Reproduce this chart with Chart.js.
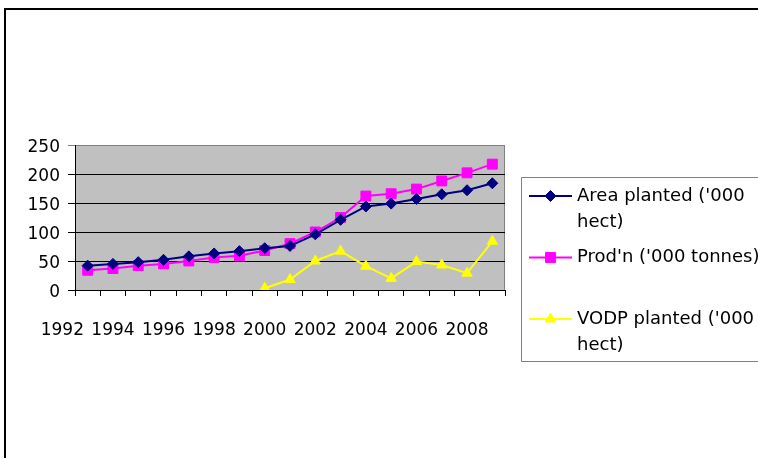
<!DOCTYPE html>
<html><head><meta charset="utf-8">
<script src="https://cdn.jsdelivr.net/npm/chart.js@4.4.0/dist/chart.umd.min.js"></script>
<style>
html,body{margin:0;padding:0;background:#fff;overflow:hidden;}
#wrap{position:relative;width:758px;height:458px;overflow:hidden;}
#fl{position:absolute;left:4px;top:8px;width:2px;height:460px;background:#000;}
#ft{position:absolute;left:4px;top:8px;width:760px;height:2px;background:#000;}
canvas{position:absolute;left:0;top:0;}
</style></head><body>
<div id="wrap"><div id="fl"></div><div id="ft"></div><canvas id="c" width="758" height="458"></canvas></div>
<script>
// ---- data ----
const years = ["1993","1994","1995","1996","1997","1998","1999","2000","2001","2002","2003","2004","2005","2006","2007","2008","2009"];
const xTickLabels = [1992,1994,1996,1998,2000,2002,2004,2006,2008];
const yTickValues = [0,50,100,150,200,250];
const areaPlanted = [42,45,48,52,58,63,67,72,76,96,121,144,149,157,165,172,184];
const production  = [34,37,42,45,50,56,59,68,80,100,125,162,166,174,188,202,217];
const vodpPlanted = [null,null,null,null,null,null,null,3,18,50,67,41,20,49,43,29,84];
const seriesNames = ["Area planted ('000 hect)","Prod'n ('000 tonnes)","VODP planted ('000 hect)"];

const FONT = "DejaVu Sans";

const plotBg = {
  id:'plotBg',
  beforeDraw(chart){
    const {ctx, chartArea:a} = chart;
    ctx.save();
    ctx.fillStyle = '#C0C0C0';
    ctx.fillRect(a.left, a.top, a.right-a.left, a.bottom-a.top);
    ctx.strokeStyle = '#808080';
    ctx.lineWidth = 1;
    ctx.strokeRect(a.left+0.5, a.top+0.5, a.right-a.left-1, a.bottom-a.top);
    ctx.restore();
  }
};

function drawMarker(ctx, style, x, y, r, color){
  ctx.save();
  ctx.fillStyle = color; ctx.strokeStyle = color; ctx.lineWidth = 1;
  ctx.beginPath();
  if (style === 'rectRot'){
    ctx.moveTo(x, y-r); ctx.lineTo(x+r, y); ctx.lineTo(x, y+r); ctx.lineTo(x-r, y);
  } else if (style === 'rect'){
    const s = r*Math.SQRT1_2;
    ctx.rect(x-s, y-s, 2*s, 2*s);
  } else {
    const w = r*Math.sqrt(3)/2;
    ctx.moveTo(x, y-r); ctx.lineTo(x+w, y+r/2); ctx.lineTo(x-w, y+r/2);
  }
  ctx.closePath(); ctx.fill(); ctx.stroke();
  ctx.restore();
}

function wrapText(ctx, text, maxW){
  const words = text.split(' ');
  const lines = []; let cur = '';
  for (const w of words){
    const t = cur ? cur + ' ' + w : w;
    if (ctx.measureText(t).width > maxW && cur){ lines.push(cur); cur = w; }
    else cur = t;
  }
  if (cur) lines.push(cur);
  return lines;
}

const boxLegend = {
  id:'boxLegend',
  afterDraw(chart){
    const ctx = chart.ctx;
    ctx.save();
    ctx.strokeStyle = '#808080'; ctx.lineWidth = 1;
    ctx.beginPath();
    ctx.moveTo(770, 177.5); ctx.lineTo(521.5, 177.5); ctx.lineTo(521.5, 361.5); ctx.lineTo(770, 361.5);
    ctx.stroke();
    ctx.font = '18px "' + FONT + '"';
    ctx.fillStyle = '#000';
    ctx.textBaseline = 'alphabetic';
    ctx.textAlign = 'left';
    chart.data.datasets.forEach((ds, i) => {
      const base = 200.5 + i*61.5;
      const ly = base - 4.5;
      ctx.strokeStyle = ds.borderColor; ctx.lineWidth = 2;
      ctx.beginPath(); ctx.moveTo(529, ly); ctx.lineTo(572, ly); ctx.stroke();
      drawMarker(ctx, ds.pointStyle, 550.5, ly, ds.pointRadius, ds.borderColor);
      const lines = wrapText(ctx, ds.label, 200);
      lines.forEach((ln, j) => ctx.fillText(ln, 577, base + j*26.5));
    });
    ctx.restore();
  }
};

new Chart(document.getElementById('c'), {
  type:'line',
  data:{
    labels: years,
    datasets:[
      {label: seriesNames[0], data: areaPlanted, borderColor:'#000080', backgroundColor:'#000080',
       pointStyle:'rectRot', pointRadius:5.5, pointBorderWidth:1, borderWidth:2, tension:0},
      {label: seriesNames[1], data: production, borderColor:'#FF00FF', backgroundColor:'#FF00FF',
       pointStyle:'rect', pointRadius:7, pointBorderWidth:1, borderWidth:2, tension:0},
      {label: seriesNames[2], data: vodpPlanted, borderColor:'#FFFF00', backgroundColor:'#FFFF00',
       pointStyle:'triangle', pointRadius:6, pointBorderWidth:1, borderWidth:2, tension:0, spanGaps:false}
    ]
  },
  options:{
    responsive:false, animation:false,
    layout:{padding:{left:0, top:145, right:253, bottom:98}},
    plugins:{legend:{display:false}, tooltip:{enabled:false}},
    scales:{
      x:{
        type:'category', position:'bottom', offset:true, weight:0,
        grid:{offset:true, drawOnChartArea:false, drawTicks:true, tickLength:6, color:'#000', lineWidth:1},
        border:{display:true, color:'#000', width:1},
        ticks:{display:false},
        afterFit(s){ s.height = 10; }
      },
      xl:{
        type:'linear', position:'bottom', weight:1, min:1992.5, max:2009.5,
        grid:{display:false, drawTicks:false},
        border:{display:false},
        ticks:{autoSkip:false, maxRotation:0, padding:20, color:'#000',
               font:{family:FONT, size:17}, callback:(v)=>String(v)},
        afterBuildTicks(s){ s.ticks = xTickLabels.map(v=>({value:v})); },
        afterFit(s){ s.height = 60; }
      },
      y:{
        min:0, max:250,
        afterBuildTicks(s){ s.ticks = yTickValues.map(v=>({value:v})); },
        grid:{color:(c)=> (c.tick && c.tick.value===250) ? '#808080' : '#000', lineWidth:1, tickLength:7, drawTicks:true},
        border:{display:true, color:'#000', width:1},
        ticks:{padding:8, labelOffset:3, color:'#000', font:{family:FONT, size:17}},
        afterFit(s){ s.width = 75; }
      }
    }
  },
  plugins:[plotBg, boxLegend]
});
</script>
</body></html>
